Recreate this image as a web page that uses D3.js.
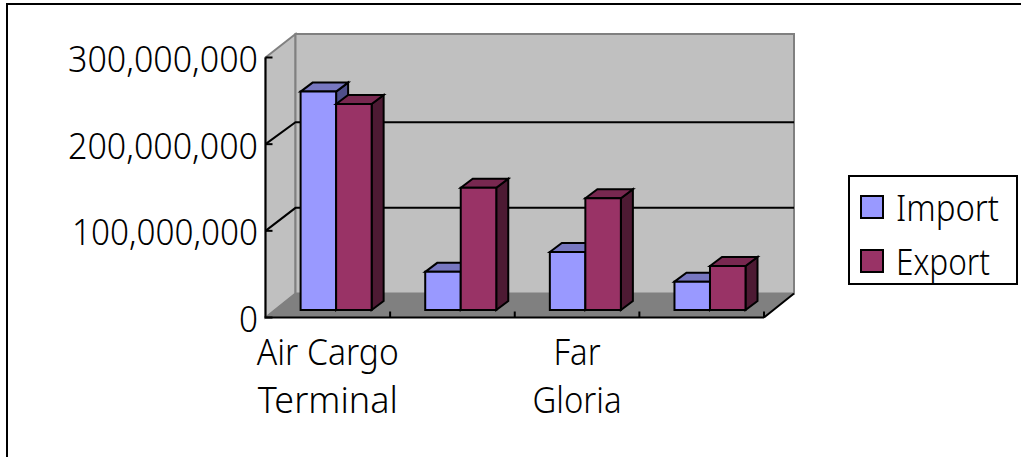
<!DOCTYPE html>
<html>
<head>
<meta charset="utf-8">
<script src="https://cdn.jsdelivr.net/npm/d3@7/dist/d3.min.js"></script>
<style>
html, body { margin: 0; padding: 0; background: #fff; overflow: hidden; }
svg { display: block; }
text { font-family: "Noto Sans", "Liberation Sans", sans-serif; font-weight: 300; font-size: 36px; fill: #000; }
</style>
</head>
<body>
<svg id="chart" width="1021" height="457"></svg>
<script>
const categories = [["Air Cargo", "Terminal"], [], ["Far", "Gloria"], []];
const seriesNames = ["Import", "Export"];
const importValues = [252000000, 44000000, 67000000, 32700000];
const exportValues = [237700000, 141000000, 129000000, 50800000];
const yTicks = [0, 100000000, 200000000, 300000000];
const seriesColors = { Import: ["#9999ff", "#7777c0", "#4f4f8a"], Export: ["#993366", "#782850", "#4d1a33"] };

// Set widths for each label so the wide-spaced face keeps its proportions
const labelWidths = new Map([
  ["0", 19], ["100,000,000", 186], ["200,000,000", 190], ["300,000,000", 190],
  ["Air Cargo", 142], ["Terminal", 140], ["Far", 47], ["Gloria", 89],
  ["Import", 103], ["Export", 94]
]);

const svg = d3.select("#chart");
const ink = "#000";

const addLabel = (x, y, label, anchor) => svg.append("text")
  .attr("x", x).attr("y", y).attr("text-anchor", anchor)
  .attr("textLength", labelWidths.get(label)).attr("lengthAdjust", "spacingAndGlyphs")
  .text(label);

// Frame of the chart area: only the top and left edges fall inside the page
svg.append("path").attr("d", "M7,457V4H1021").attr("fill", "none")
  .attr("stroke", ink).attr("stroke-width", 2);

// Oblique projection: front plane, back wall and the plane the bars stand on
const plot = { left: 265.5, right: 764, top: 57.5, bottom: 317.5 };
const wallDepth = { dx: 30, dy: -24 };
const barShift = { dx: 8.3, dy: -7.5 };
const barDepth = { dx: 12, dy: -9 };

const yFront = d3.scaleLinear().domain([0, 300000000]).range([plot.bottom, plot.top]);
const yBack = d3.scaleLinear().domain([0, 300000000]).range([plot.bottom + wallDepth.dy, 36.5]);
const yBars = d3.scaleLinear().domain([0, 300000000]).range([plot.bottom + barShift.dy, plot.top + barShift.dy]);
const xCat = d3.scaleBand().domain(d3.range(categories.length)).range([plot.left, plot.right]);
const xBars = d3.scaleBand().domain(d3.range(categories.length))
  .range([plot.left + barShift.dx, plot.right + barShift.dx]).paddingInner(0.43).paddingOuter(0.215);
const xSeries = d3.scaleBand().domain(seriesNames).range([0, xBars.bandwidth()]);

const pts = a => a.map(p => p.join(",")).join(" ");
const backLeft = plot.left + wallDepth.dx, backRight = plot.right + wallDepth.dx;
const wallTop = 34, backBottom = plot.bottom + wallDepth.dy;

// Side wall, back wall, floor
svg.append("polygon").attr("fill", "#c0c0c0").attr("stroke", "#808080").attr("stroke-width", 2)
  .attr("points", pts([[plot.left, plot.top], [backLeft, wallTop], [backLeft, backBottom], [plot.left, plot.bottom]]));
svg.append("rect").attr("x", backLeft).attr("y", wallTop).attr("width", backRight - backLeft)
  .attr("height", backBottom - wallTop).attr("fill", "#c0c0c0").attr("stroke", "#808080").attr("stroke-width", 2);
svg.append("polygon").attr("fill", "#808080").attr("stroke", "#808080")
  .attr("points", pts([[plot.left, plot.bottom], [backLeft, backBottom], [backRight, backBottom], [plot.right, plot.bottom]]));

// Gridlines folded across side wall and back wall
yTicks.slice(1, -1).forEach(t => {
  svg.append("polyline").attr("fill", "none").attr("stroke", ink).attr("stroke-width", 2)
    .attr("points", pts([[plot.left, yFront(t)], [backLeft, yBack(t)], [backRight, yBack(t)]]));
});

// Bars: each has a front face, a top and a right side
const groups = svg.append("g").selectAll("g").data(categories).join("g")
  .attr("transform", (d, i) => `translate(${xBars(i)},0)`);

seriesNames.forEach((name, si) => {
  const values = si === 0 ? importValues : exportValues;
  groups.each(function (d, i) {
    const g = d3.select(this);
    const x0 = xSeries(name), x1 = x0 + xSeries.bandwidth();
    const y0 = yBars(0), y1 = yBars(values[i]);
    const [front, top, side] = seriesColors[name];
    const face = (points, fill) => g.append("polygon").attr("points", pts(points))
      .attr("fill", fill).attr("stroke", ink).attr("stroke-width", 2).attr("stroke-linejoin", "miter");
    face([[x1, y1], [x1 + barDepth.dx, y1 + barDepth.dy], [x1 + barDepth.dx, y0 + barDepth.dy], [x1, y0]], side);
    face([[x0, y1], [x0 + barDepth.dx, y1 + barDepth.dy], [x1 + barDepth.dx, y1 + barDepth.dy], [x1, y1]], top);
    face([[x0, y1], [x1, y1], [x1, y0], [x0, y0]], front);
  });
});

// Value axis
svg.append("line").attr("x1", plot.left).attr("x2", plot.left)
  .attr("y1", plot.top).attr("y2", plot.bottom).attr("stroke", ink).attr("stroke-width", 2);
yTicks.forEach(t => {
  svg.append("line").attr("x1", plot.left).attr("x2", plot.left + 7)
    .attr("y1", yFront(t)).attr("y2", yFront(t)).attr("stroke", ink).attr("stroke-width", 2);
  addLabel(258, yFront(t) + 14.5, d3.format(",")(t), "end");
});

// Category axis
svg.append("line").attr("x1", plot.left - 1).attr("x2", plot.right)
  .attr("y1", plot.bottom).attr("y2", plot.bottom).attr("stroke", ink).attr("stroke-width", 2);
d3.range(1, categories.length + 1).forEach(i => {
  const x = i < categories.length ? xCat(i) : plot.right;
  svg.append("line").attr("x1", x).attr("x2", x).attr("y1", plot.bottom - 6).attr("y2", plot.bottom)
    .attr("stroke", ink).attr("stroke-width", 2);
});
svg.append("line").attr("x1", plot.right).attr("y1", plot.bottom).attr("x2", backRight).attr("y2", backBottom)
  .attr("stroke", ink).attr("stroke-width", 2);
categories.forEach((lines, i) => {
  lines.forEach((line, j) => {
    addLabel(xCat(i) + xCat.bandwidth() / 2, 364.5 + j * 48, line, "middle");
  });
});

// Legend
svg.append("rect").attr("x", 849).attr("y", 176).attr("width", 168).attr("height", 108)
  .attr("fill", "#fff").attr("stroke", ink).attr("stroke-width", 2);
seriesNames.forEach((name, i) => {
  const y = 196 + i * 54;
  svg.append("rect").attr("x", 861).attr("y", y).attr("width", 22).attr("height", 22)
    .attr("fill", seriesColors[name][0]).attr("stroke", ink).attr("stroke-width", 2);
  addLabel(896, y + 24.5, name, "start");
});
</script>
</body>
</html>
